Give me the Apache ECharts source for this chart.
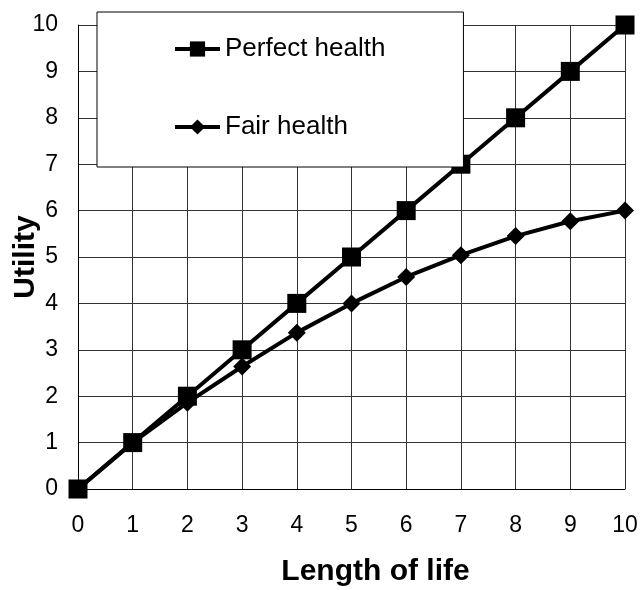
<!DOCTYPE html>
<html>
<head>
<meta charset="utf-8">
<script src="https://cdn.jsdelivr.net/npm/echarts@6/dist/echarts.min.js"></script>
<style>
  html, body { margin: 0; padding: 0; background: #fff; }
  #chart { width: 640px; height: 590px; }
</style>
</head>
<body>
<div id="chart"></div>
<script>
const lengthOfLife = [0, 1, 2, 3, 4, 5, 6, 7, 8, 9, 10]
const perfectHealth = [0, 1, 2, 3, 4, 5, 6, 7, 8, 9, 10]
const fairHealth = [0, 1, 1.86, 2.64, 3.37, 4.0, 4.57, 5.04, 5.45, 5.77, 6.0]

const toPairs = (ys) => lengthOfLife.map((x, i) => [x, ys[i]])

const myChart = echarts.init(document.getElementById('chart'))

const font = 'Liberation Sans, Arial, sans-serif'
const gridLine = { show: true, lineStyle: { color: '#333', width: 1 } }

const option = {
  animation: false,
  backgroundColor: '#fff',
  grid: { left: 78, right: 15, top: 25, bottom: 101, containLabel: false, outerBoundsMode: 'none' },
  legend: {
    orient: 'vertical',
    left: 97,
    top: 12,
    padding: [24, 78, 27, 76],
    itemGap: 52,
    itemWidth: 45,
    itemHeight: 19,
    backgroundColor: '#fff',
    borderColor: '#000',
    borderWidth: 1,
    lineStyle: { width: 4 },
    textStyle: { fontFamily: font, fontSize: 26, color: '#000', lineHeight: 26, width: 160 },
    data: ['Perfect health', 'Fair health']
  },
  xAxis: {
    type: 'value',
    min: 0,
    max: 10,
    interval: 1,
    name: 'Length of life',
    nameLocation: 'middle',
    nameGap: 68,
    nameMoveOverlap: false,
    nameTextStyle: { fontFamily: font, fontSize: 30, fontWeight: 'bold', color: '#000', padding: [0, 0, 0, 48] },
    axisLine: { show: true, onZero: false, lineStyle: { color: '#000', width: 1 } },
    axisTick: { show: false },
    axisLabel: { margin: 25, fontFamily: font, fontSize: 23, color: '#000' },
    splitLine: gridLine
  },
  yAxis: {
    type: 'value',
    min: 0,
    max: 10,
    interval: 1,
    name: 'Utility',
    nameLocation: 'middle',
    nameGap: 37,
    nameMoveOverlap: false,
    nameTextStyle: { fontFamily: font, fontSize: 30, fontWeight: 'bold', color: '#000' },
    axisLine: { show: true, lineStyle: { color: '#000', width: 1 } },
    axisTick: { show: false },
    axisLabel: { margin: 20, fontFamily: font, fontSize: 23, color: '#000' },
    splitLine: gridLine
  },
  series: [
    {
      name: 'Perfect health',
      type: 'line',
      data: toPairs(perfectHealth),
      symbol: 'rect',
      symbolSize: 19,
      lineStyle: { color: '#000', width: 4 },
      itemStyle: { color: '#000' },
      z: 3
    },
    {
      name: 'Fair health',
      type: 'line',
      data: toPairs(fairHealth),
      symbol: 'diamond',
      symbolSize: 18,
      lineStyle: { color: '#000', width: 4 },
      itemStyle: { color: '#000' },
      z: 2
    }
  ]
}

myChart.setOption(option)
</script>
</body>
</html>
